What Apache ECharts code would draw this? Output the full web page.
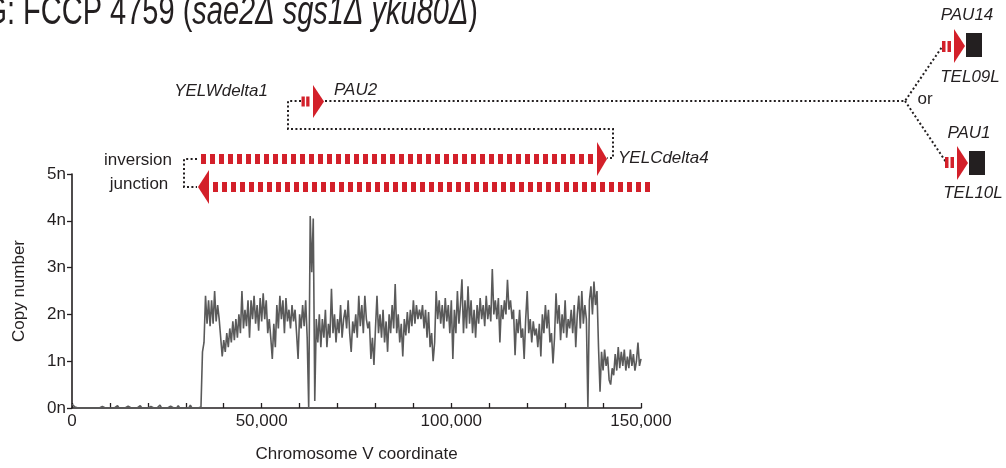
<!DOCTYPE html>
<html><head><meta charset="utf-8">
<script src="https://cdn.jsdelivr.net/npm/echarts@6/dist/echarts.min.js"></script>
<style>html,body{margin:0;padding:0;background:#fff}#c{width:1006px;height:468px}</style>
</head><body><div id="c"></div>
<script>
// ---- data ----
const binSize = 400; // bp per bin, bins start at 0
const copyNumber = [
0.08,0.05,0.02,0,0,0,0,0.01,0,0,
0,0,0,0.04,0,0,0,0,0,0,
0.03,0,0,0,0,0,0,0,0,0,
0.05,0,0,0,0,0,0,0.04,0,0,
0,0,0,0,0,0.05,0,0,0,0,
0,0,0.03,0,0,0,0,0,0.06,0,
0,0,0,0,0,0.04,0,0,0,0,
0.05,0,0,0,0,0,0,0,0.06,0,
0,0,0.04,0,0,0.02,
1.2,1.4,2.4,1.8,2.3,1.75,2.3,1.8,2.5,1.85,
2.2,1.9,1.5,1.1,1.45,1.2,1.6,1.3,1.7,1.4,
1.85,1.45,1.9,1.5,2.0,1.6,2.5,1.7,2.1,1.75,
2.3,1.5,2.3,1.9,2.4,1.8,2.2,1.65,2.35,1.85,
2.45,1.9,2.3,1.6,1.9,1.5,1.05,1.8,1.3,2.2,
1.7,2.4,1.9,2.3,1.6,2.35,1.85,2.1,1.7,2.2,
1.85,2.1,1.6,1.05,2.0,1.7,2.2,1.75,2.3,1.5,
0.0,4.1,2.9,4.05,0.15,1.9,1.4,2.0,1.3,1.9,
1.5,2.1,1.3,1.8,1.5,2.55,1.6,2.0,1.4,1.9,
1.6,2.2,1.5,1.9,2.1,1.7,2.3,1.6,1.2,1.85,
1.6,2.0,1.5,2.4,1.75,2.2,1.6,2.4,1.9,1.7,
1.85,1.05,1.5,0.92,1.7,2.4,1.6,2.0,1.5,2.1,
1.4,1.85,1.2,2.0,1.6,2.2,1.7,2.65,1.6,2.0,
1.4,1.8,1.1,1.9,1.55,2.05,1.6,2.1,1.75,2.3,
1.8,2.2,1.9,2.1,1.9,2.2,1.7,2.1,1.5,2.05,
1.3,1.6,1.0,1.4,2.5,1.9,2.3,1.8,2.2,1.7,
2.35,1.85,2.2,1.6,2.3,1.05,2.1,1.6,2.5,1.8,
2.2,2.75,1.6,2.3,1.7,2.6,1.8,2.3,1.6,2.1,
1.5,2.2,1.8,2.35,1.9,2.2,1.75,2.4,1.9,2.2,
1.85,2.97,2.0,2.3,1.9,2.35,1.4,2.2,1.9,2.3,
2.0,2.74,2.1,2.3,1.9,2.1,1.13,1.9,1.6,2.1,
1.5,1.7,1.05,1.9,2.5,1.6,1.9,1.4,1.85,1.55,
1.7,1.3,1.8,1.1,2.0,1.6,2.2,1.7,2.1,1.4,
1.6,0.95,1.5,2.45,1.8,2.2,1.45,2.0,1.6,2.3,
1.5,1.9,1.7,2.1,1.6,2.2,1.3,2.0,2.4,1.7,
2.5,1.8,2.2,1.9,0.0,2.3,2.6,2.0,2.7,2.2,
2.5,1.3,0.35,1.2,0.8,1.25,0.9,1.1,0.6,0.5,
0.85,0.7,1.15,0.8,1.3,0.85,1.2,0.9,1.25,0.8,
1.1,0.85,1.25,0.9,1.15,0.8,1.0,1.4,0.9,1.05
];
const yTickLabels = ['0n','1n','2n','3n','4n','5n'];
const xLabelValues = [0, 50000, 100000, 150000];
const xAxisName = 'Chromosome V coordinate';
const yAxisName = 'Copy number';

// ---- styles ----
const FONT = '"Liberation Sans", Arial, Helvetica, sans-serif';
const RED = '#d3202a';
const INK = '#231f20';

const seriesData = copyNumber.map((v, i) => [i * binSize, v]);

const dot = {stroke: INK, lineWidth: 2, lineDash: [2, 2.4], fill: null};
function txt(x, y, s, opts) {
  return Object.assign({type: 'text', x: x, y: y, silent: true,
    style: Object.assign({text: s, font: '17px ' + FONT, fill: INK, align: 'center', verticalAlign: 'middle'}, opts || {})});
}
function ital(x, y, s, align) { return txt(x, y, s, {font: 'italic 17px ' + FONT, align: align || 'center'}); }

const graphics = [
  // title (cropped at top)
  {type: 'text', x: 478, y: 33, scaleY: 1.4, silent: true, style: {
    text: '{n|G: FCCP 4759 (}{i|sae2Δ sgs1Δ yku80Δ}{n|)}', align: 'right', verticalAlign: 'bottom',
    rich: {n: {fontSize: 29, fontFamily: FONT, fill: INK}, i: {fontSize: 29, fontStyle: 'italic', fontFamily: FONT, fill: INK}}}},
  // dotted connectors
  {type: 'polyline', shape: {points: [[301, 101], [288, 101], [288, 129], [613, 129], [613, 158], [607, 158]]}, style: dot},
  {type: 'polyline', shape: {points: [[325, 101], [905, 101], [942, 47]]}, style: dot},
  {type: 'polyline', shape: {points: [[905, 101], [946, 162]]}, style: dot},
  {type: 'polyline', shape: {points: [[197, 159], [184, 159], [184, 187], [197, 187]]}, style: dot},
  // PAU2 small arrow
  {type: 'line', shape: {x1: 301.5, y1: 101.5, x2: 309.5, y2: 101.5}, style: {stroke: RED, lineWidth: 10, lineDash: [3.3, 1.4]}},
  {type: 'polygon', shape: {points: [[313, 85], [324, 101.5], [313, 118]]}, style: {fill: RED}},
  // upper big arrow
  {type: 'line', shape: {x1: 201, y1: 159, x2: 596, y2: 159}, style: {stroke: RED, lineWidth: 10, lineDash: [5, 4]}},
  {type: 'polygon', shape: {points: [[597, 142], [607, 159], [597, 176]]}, style: {fill: RED}},
  // lower big arrow
  {type: 'polygon', shape: {points: [[198, 187], [209, 170], [209, 204]]}, style: {fill: RED}},
  {type: 'line', shape: {x1: 213, y1: 187, x2: 652, y2: 187}, style: {stroke: RED, lineWidth: 10, lineDash: [5, 4]}},
  // PAU14 / TEL09L
  {type: 'line', shape: {x1: 942, y1: 46.5, x2: 952, y2: 46.5}, style: {stroke: RED, lineWidth: 11, lineDash: [3.5, 2]}},
  {type: 'polygon', shape: {points: [[954, 29], [965, 46], [954, 63]]}, style: {fill: RED}},
  {type: 'rect', shape: {x: 966, y: 33, width: 16, height: 24}, style: {fill: INK}},
  // PAU1 / TEL10L
  {type: 'line', shape: {x1: 945, y1: 162.5, x2: 956, y2: 162.5}, style: {stroke: RED, lineWidth: 11, lineDash: [3.5, 2]}},
  {type: 'polygon', shape: {points: [[957, 146], [968, 163], [957, 180]]}, style: {fill: RED}},
  {type: 'rect', shape: {x: 969, y: 151, width: 16, height: 24}, style: {fill: INK}},
  // labels
  ital(268, 91, 'YELWdelta1', 'right'),
  ital(334, 90, 'PAU2', 'left'),
  ital(618, 158, 'YELCdelta4', 'left'),
  txt(138, 160, 'inversion'),
  txt(139, 184, 'junction'),
  ital(967, 15, 'PAU14'),
  ital(970, 77, 'TEL09L'),
  txt(925, 99, 'or'),
  ital(969, 133, 'PAU1'),
  ital(973, 193, 'TEL10L')
];

const chart = echarts.init(document.getElementById('c'), null, {renderer: 'canvas'});
chart.setOption({
  animation: false,
  backgroundColor: '#fff',
  grid: {left: 72, right: 365, top: 174, bottom: 54, containLabel: false},
  xAxis: {
    type: 'value', min: 0, max: 150000, interval: 10000,
    name: xAxisName, nameLocation: 'middle', nameGap: 38,
    nameTextStyle: {fontSize: 17, fontFamily: FONT, color: INK},
    axisLine: {show: true, lineStyle: {color: INK, width: 1.6}},
    axisTick: {show: true, inside: true, length: 5, lineStyle: {color: INK, width: 1.3}},
    axisLabel: {fontSize: 17, fontFamily: FONT, color: INK, margin: 5,
      formatter: v => xLabelValues.includes(v) ? v.toLocaleString('en-US') : ''},
    splitLine: {show: false}
  },
  yAxis: {
    type: 'value', min: 0, max: 5, interval: 1,
    name: yAxisName, nameLocation: 'middle', nameGap: 44, nameRotate: 90,
    nameTextStyle: {fontSize: 17, fontFamily: FONT, color: INK},
    axisLine: {show: true, lineStyle: {color: INK, width: 1.6}},
    axisTick: {show: true, inside: false, length: 5, lineStyle: {color: INK, width: 1.3}},
    axisLabel: {fontSize: 17, fontFamily: FONT, color: INK, margin: 6,
      formatter: v => yTickLabels[Math.round(v)]},
    splitLine: {show: false}
  },
  series: [{
    type: 'line', data: seriesData, showSymbol: false, symbol: 'none',
    lineStyle: {color: '#5a5a5a', width: 1.6}, clip: false, z: 1
  }],
  graphic: graphics
});
</script>
</body></html>
